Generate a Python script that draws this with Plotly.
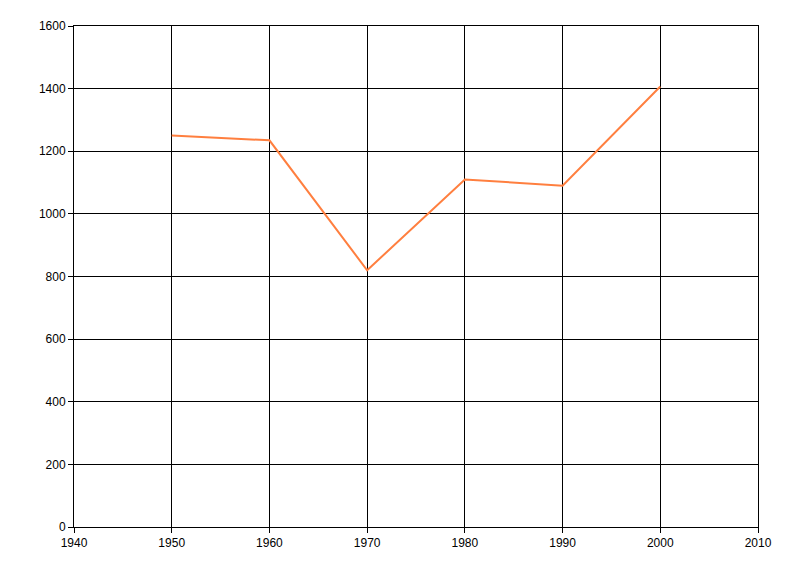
import plotly.graph_objects as go

years = [1950, 1960, 1970, 1980, 1990, 2000]
values = [1250, 1235, 820, 1110, 1090, 1407]

fig = go.Figure()
fig.add_trace(go.Scatter(x=years, y=values, mode="lines",
                         line=dict(color="#FF7F3F", width=2), showlegend=False))

axis_common = dict(showgrid=True, gridcolor="black", gridwidth=1,
                   showline=True, linecolor="black", linewidth=1,
                   ticks="outside", ticklen=5, tickcolor="black",
                   zeroline=False, mirror=True,
                   tickfont=dict(family="Liberation Sans, Arial, sans-serif", size=12, color="black"))

fig.update_layout(
    width=800, height=576,
    margin=dict(l=66, r=50, t=18, b=57),
    paper_bgcolor="white", plot_bgcolor="white",
    xaxis=dict(range=[1940, 2010], dtick=10, tick0=1940, **axis_common),
    yaxis=dict(range=[0, 1600], dtick=200, tick0=0, **axis_common),
)
fig.write_html("out.html")
